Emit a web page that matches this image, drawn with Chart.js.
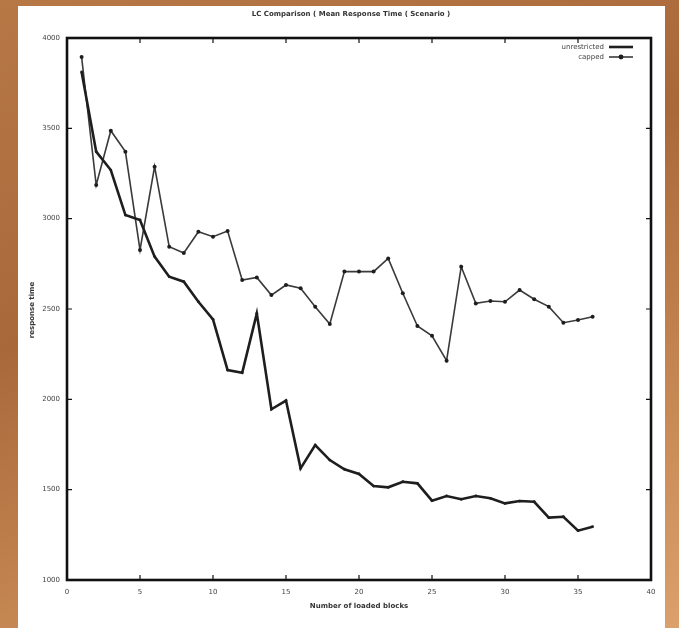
<!DOCTYPE html>
<html>
<head>
<meta charset="utf-8">
<script src="https://cdn.jsdelivr.net/npm/chart.js@4/dist/chart.umd.min.js"></script>
<style>
  html, body { margin: 0; padding: 0; }
  body {
    width: 679px; height: 628px; overflow: hidden; position: relative;
    background: linear-gradient(160deg, #b77846 0%, #a9683a 40%, #c88a55 75%, #dba06c 100%);
  }
  #panel { position: absolute; left: 18px; top: 6px; width: 647px; height: 622px; background: #fff; }
  #chart { filter: blur(0.45px); }
</style>
</head>
<body>
<div id="panel"><canvas id="chart" width="647" height="622"></canvas></div>
<script>
// values
const blocks = [1, 2, 3, 4, 5, 6, 7, 8, 9, 10, 11, 12, 13, 14, 15, 16, 17, 18,
  19, 20, 21, 22, 23, 24, 25, 26, 27, 28, 29, 30, 31, 32, 33, 34, 35, 36];
const unrestricted = [3812, 3371, 3269, 3020, 2993, 2790, 2679, 2651, 2540, 2443, 2162, 2147,
  2476, 1945, 1993, 1618, 1747, 1664, 1613, 1587, 1520, 1513, 1544, 1535,
  1439, 1465, 1447, 1465, 1452, 1424, 1437, 1433, 1345, 1350, 1273, 1295];
const capped = [3895, 3186, 3487, 3371, 2827, 3288, 2845, 2810, 2928, 2900, 2932, 2660,
  2675, 2577, 2633, 2615, 2513, 2417, 2707, 2707, 2707, 2780, 2587, 2406,
  2352, 2214, 2734, 2531, 2544, 2540, 2605, 2554, 2513, 2424, 2439, 2457];
const xTicks = [0, 5, 10, 15, 20, 25, 30, 35, 40];
const yTicks = [1000, 1500, 2000, 2500, 3000, 3500, 4000];

const titleText = 'LC Comparison ( Mean Response Time ( Scenario )';
const xTitle = 'Number of loaded blocks';
const yTitle = 'response time';

const pts = arr => blocks.map((b, i) => ({ x: b, y: arr[i] }));

// gnuplot-like frame, inward ticks, titles and key
const gnuplotLook = {
  id: 'gnuplotLook',
  afterDraw(chart) {
    const ctx = chart.ctx;
    const a = chart.chartArea;
    const xs = chart.scales.x, ys = chart.scales.y;
    ctx.save();
    ctx.strokeStyle = '#111';
    ctx.lineWidth = 1.2;
    xTicks.forEach(v => {
      const px = xs.getPixelForValue(v);
      ctx.beginPath();
      ctx.moveTo(px, a.bottom); ctx.lineTo(px, a.bottom - 5);
      ctx.moveTo(px, a.top); ctx.lineTo(px, a.top + 5);
      ctx.stroke();
    });
    yTicks.forEach(v => {
      const py = ys.getPixelForValue(v);
      ctx.beginPath();
      ctx.moveTo(a.left, py); ctx.lineTo(a.left + 5, py);
      ctx.moveTo(a.right, py); ctx.lineTo(a.right - 5, py);
      ctx.stroke();
    });
    ctx.lineWidth = 2.6;
    ctx.strokeRect(a.left, a.top, a.right - a.left, a.bottom - a.top);

    ctx.fillStyle = '#333';
    ctx.font = 'bold 7px "DejaVu Sans"';
    ctx.textAlign = 'center';
    ctx.textBaseline = 'middle';
    ctx.fillText(titleText, (a.left + a.right) / 2 - 8, 8);
    ctx.fillText(xTitle, (a.left + a.right) / 2, 600);
    ctx.save();
    ctx.translate(14, 304);
    ctx.rotate(-Math.PI / 2);
    ctx.fillText(yTitle, 0, 0);
    ctx.restore();

    // key
    ctx.textAlign = 'right';
    ctx.font = '7px "DejaVu Sans"';
    chart.data.datasets.forEach((ds, i) => {
      const y = 41 + i * 10;
      ctx.fillStyle = '#444';
      ctx.fillText(ds.label, 586, y);
      ctx.strokeStyle = ds.borderColor;
      ctx.lineWidth = ds.borderWidth;
      ctx.beginPath(); ctx.moveTo(591, y); ctx.lineTo(615, y); ctx.stroke();
      if (i === 1) {
        ctx.fillStyle = ds.pointBackgroundColor;
        ctx.beginPath(); ctx.arc(603, y, 2.4, 0, Math.PI * 2); ctx.fill();
      }
    });
    ctx.restore();
  }
};

new Chart(document.getElementById('chart'), {
  type: 'line',
  data: {
    datasets: [
      {
        label: 'unrestricted',
        data: pts(unrestricted),
        borderColor: '#1e1e1e',
        borderWidth: 2.6,
        pointRadius: 1.4,
        pointBackgroundColor: '#1e1e1e',
        pointBorderWidth: 0,
        tension: 0
      },
      {
        label: 'capped',
        data: pts(capped),
        borderColor: '#3a3a3a',
        borderWidth: 1.6,
        pointRadius: 2,
        pointBackgroundColor: '#1e1e1e',
        pointBorderWidth: 0,
        tension: 0
      }
    ]
  },
  options: {
    responsive: false,
    animation: false,
    layout: { padding: { top: 32, right: 14, left: 0, bottom: 0 } },
    plugins: { legend: { display: false }, title: { display: false }, tooltip: { enabled: false } },
    scales: {
      x: {
        type: 'linear', min: 0, max: 40,
        afterBuildTicks: s => { s.ticks = xTicks.map(v => ({ value: v })); },
        afterFit: s => { s.height = 48; },
        grid: { display: false, drawTicks: false },
        border: { display: false },
        ticks: { padding: 8, color: '#444', font: { family: 'DejaVu Sans', size: 7 }, callback: v => String(v) }
      },
      y: {
        min: 1000, max: 4000,
        afterBuildTicks: s => { s.ticks = yTicks.map(v => ({ value: v })); },
        afterFit: s => { s.width = 49; },
        grid: { display: false, drawTicks: false },
        border: { display: false },
        ticks: { padding: 7, color: '#444', font: { family: 'DejaVu Sans', size: 7 }, callback: v => String(v) }
      }
    }
  },
  plugins: [gnuplotLook]
});
</script>
</body>
</html>
